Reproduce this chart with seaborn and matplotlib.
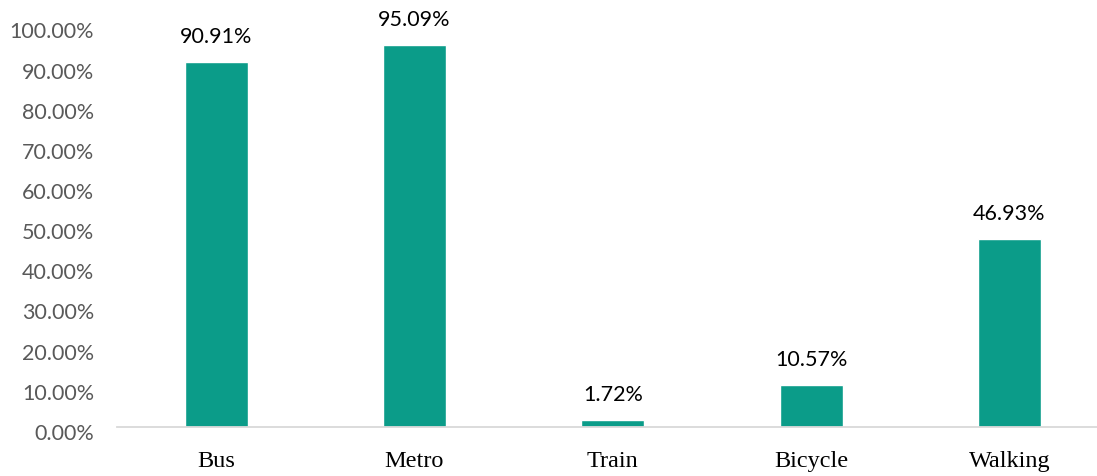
import matplotlib
matplotlib.use("Agg")
import matplotlib.pyplot as plt
import matplotlib.transforms as mtransforms
from matplotlib.ticker import PercentFormatter
import seaborn as sns
import pandas as pd

modes = ["Bus", "Metro", "Train", "Bicycle", "Walking"]
shares = [90.91, 95.09, 1.72, 10.57, 46.93]
y_ticks = [0, 10, 20, 30, 40, 50, 60, 70, 80, 90, 100]

sns.set_style("white")
plt.rcParams["font.family"] = ["Lato", "DejaVu Sans"]

df = pd.DataFrame({"mode": modes, "share": shares})

W, H = 1097, 476
fig = plt.figure(figsize=(W / 100, H / 100), dpi=100)
ax = fig.add_axes([117 / W, 49 / H, (1108.5 - 117) / W, (450.5 - 49) / H])

sns.barplot(data=df, x="mode", y="share", color="#0B9C89", saturation=1,
            width=0.318, ax=ax)

ax.set_xlim(-0.5, len(modes) - 0.5)
ax.set_ylim(0, 100)
ax.set_yticks(y_ticks)
ax.yaxis.set_major_formatter(PercentFormatter(100, decimals=2))
ax.set_xlabel("")
ax.set_ylabel("")

for side in ["top", "right", "left"]:
    ax.spines[side].set_visible(False)
ax.spines["bottom"].set_color("#D9D9D9")
ax.spines["bottom"].set_linewidth(1.3)

ax.tick_params(axis="y", length=0, pad=16.5, labelsize=15.5, labelcolor="#595959")
ax.tick_params(axis="x", length=0, pad=17.5)
for lbl in ax.get_xticklabels():
    lbl.set_fontfamily("Liberation Serif")
    lbl.set_fontsize(17.5)
    lbl.set_color("black")

# nudge the percentage tick labels slightly below their gridline positions
shift = mtransforms.ScaledTranslation(0, -3.5 / 72, fig.dpi_scale_trans)
for lbl in ax.get_yticklabels():
    lbl.set_transform(lbl.get_transform() + shift)

for i, v in enumerate(shares):
    ax.annotate(f"{v:.2f}%", xy=(i, v), xytext=(0, 13.5), textcoords="offset points",
                ha="center", va="baseline", fontsize=15.5, color="black")

fig.savefig("out.png", dpi=100)
